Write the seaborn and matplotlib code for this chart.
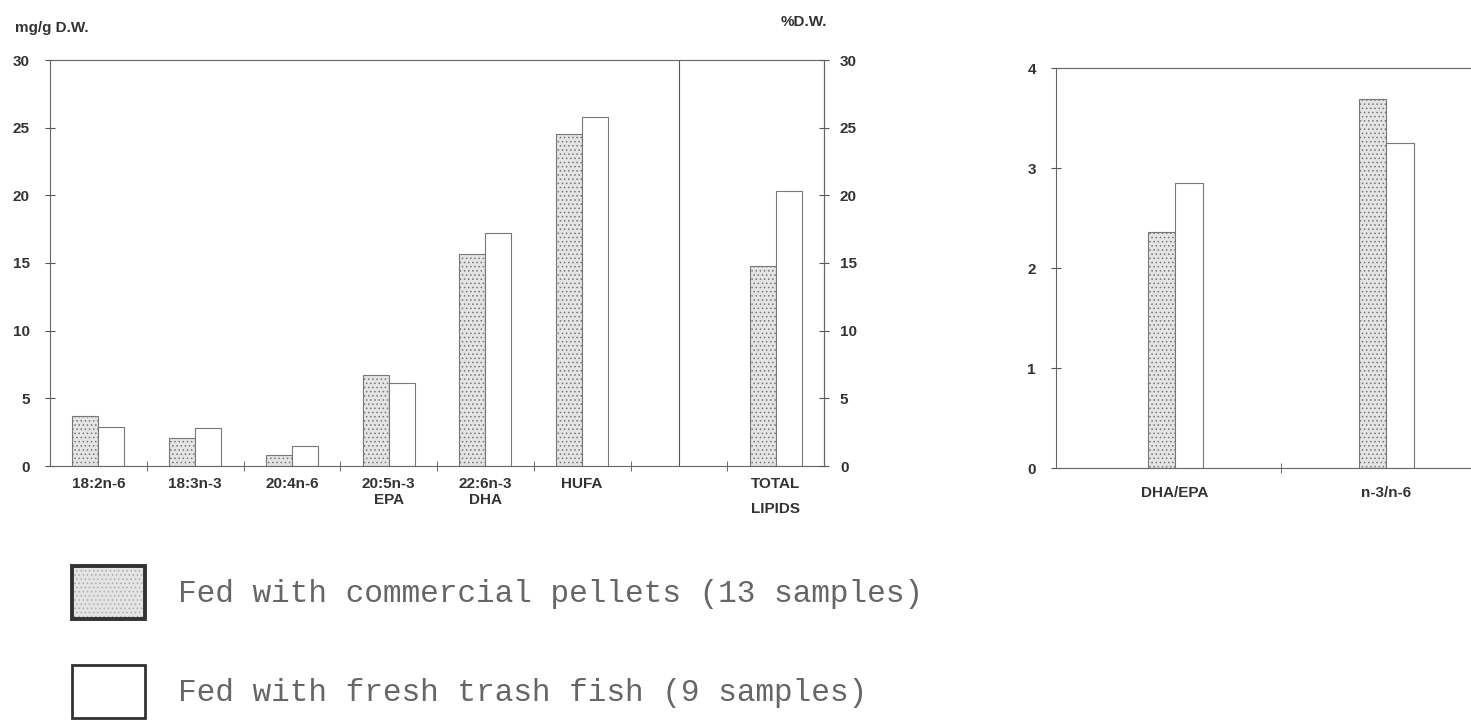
import matplotlib
matplotlib.use('Agg')
import matplotlib.pyplot as plt
from matplotlib.patches import Patch
from matplotlib.legend_handler import HandlerTuple
import numpy as np
import pandas as pd
import seaborn as sns

sns.set_style('white')
plt.rcParams.update({
    'font.family': ['Liberation Sans', 'DejaVu Sans'],
    'font.weight': 'bold',
    'font.size': 11,
    'text.color': '#333333',
    'xtick.color': '#555555',
    'ytick.color': '#555555',
    'xtick.labelcolor': '#333333',
    'ytick.labelcolor': '#333333',
    'hatch.linewidth': 0.6,
})

# fatty acid contents (mg/g D.W., total lipids in %D.W.)
acids = ['18:2n-6', '18:3n-3', '20:4n-6', '20:5n-3', '22:6n-3', 'HUFA', ' ', 'TOTAL LIPIDS']
acid_labels = ['18:2n-6', '18:3n-3', '20:4n-6', '20:5n-3\nEPA', '22:6n-3\nDHA', 'HUFA', '', 'TOTAL\nLIPIDS']
acids_used = ['18:2n-6', '18:3n-3', '20:4n-6', '20:5n-3', '22:6n-3', 'HUFA', 'TOTAL LIPIDS']
pellets_vals = [3.72, 2.05, 0.79, 6.73, 15.67, 24.5, 14.8]
trash_vals = [2.91, 2.78, 1.45, 6.11, 17.2, 25.8, 20.3]

# ratios
ratios = ['DHA/EPA', 'n-3/n-6']
pellets_ratio = [2.36, 3.69]
trash_ratio = [2.85, 3.25]

diets = ['Fed with commercial pellets (13 samples)', 'Fed with fresh trash fish (9 samples)']
diet_colors = {diets[0]: '#e4e4e4', diets[1]: 'white'}

df_fa = pd.DataFrame({
    'acid': acids_used * 2,
    'value': pellets_vals + trash_vals,
    'diet': [diets[0]] * len(acids_used) + [diets[1]] * len(acids_used),
})
df_ratio = pd.DataFrame({
    'ratio': ratios * 2,
    'value': pellets_ratio + trash_ratio,
    'diet': [diets[0]] * len(ratios) + [diets[1]] * len(ratios),
})

fig = plt.figure(figsize=(14.71, 7.26), dpi=100)
ax = fig.add_axes([50 / 1471, 260 / 726, 774 / 1471, 406 / 726])
axr = fig.add_axes([1056 / 1471, 258 / 726, 415 / 1471, 400 / 726])

edge = '#777777'
sns.barplot(data=df_fa, x='acid', y='value', hue='diet', order=acids, hue_order=diets,
            palette=diet_colors, saturation=1, width=0.54, edgecolor=edge, linewidth=0.8,
            legend=False, ax=ax)
sns.barplot(data=df_ratio, x='ratio', y='value', hue='diet', order=ratios, hue_order=diets,
            palette=diet_colors, saturation=1, width=0.26, edgecolor=edge, linewidth=0.8,
            legend=False, ax=axr)

for a in (ax, axr):
    for bar in a.containers[0]:
        bar.set_hatch('....')
    a.set_xlabel('')
    a.set_ylabel('')
    for s in a.spines.values():
        s.set_color('#666666')
        s.set_linewidth(0.8)

# left panel
ax.set_xlim(-0.5, 7.5)
ax.set_ylim(0, 30)
ax.set_yticks(np.arange(0, 31, 5))
ax.set_xticks(range(len(acids)))
ax.set_xticklabels(acid_labels)
ax.set_xticks(np.arange(0.5, 7, 1), minor=True)
ax.tick_params(axis='x', which='major', length=0, pad=8)
ax.tick_params(axis='x', which='minor', direction='inout', length=7, bottom=True)
ax.tick_params(axis='y', direction='inout', length=7, pad=11, left=True)
ax.get_xticklabels()[-1].set_linespacing(2.0)
ax.axvline(6, color='#555555', linewidth=0.8)

ax2 = ax.twinx()
ax2.set_ylim(0, 30)
ax2.set_yticks(np.arange(0, 31, 5))
ax2.tick_params(axis='y', direction='inout', length=7, pad=8, right=True)
for k, s in ax2.spines.items():
    s.set_visible(k == 'right')
    s.set_color('#666666')
    s.set_linewidth(0.8)

# right panel
axr.set_xlim(-0.564, 1.40)
axr.set_ylim(0, 4)
axr.set_yticks(range(5))
axr.set_xticks([0.5], minor=True)
axr.tick_params(axis='x', which='major', length=0, pad=13)
axr.tick_params(axis='x', which='minor', direction='inout', length=7, bottom=True)
axr.tick_params(axis='y', direction='inout', length=7, pad=11, left=True)
axr.spines['right'].set_visible(False)

fig.text(15 / 1471, 1 - 28 / 726, 'mg/g D.W.', fontsize=11, va='center', ha='left')
fig.text(781 / 1471, 1 - 22 / 726, '%D.W.', fontsize=11, va='center', ha='left')

# legend
h_pel = (Patch(facecolor=diet_colors[diets[0]], edgecolor='#aaaaaa', hatch='....', linewidth=0),
         Patch(facecolor='none', edgecolor='#333333', linewidth=2.8))
h_tr = Patch(facecolor='white', edgecolor='#333333', linewidth=2)
fig.legend([h_pel, h_tr], diets, handler_map={tuple: HandlerTuple(ndivide=1)},
           loc='upper left', bbox_to_anchor=(72 / 1471, 1 - 566 / 726), frameon=False,
           borderpad=0, borderaxespad=0, handlelength=2.35, handleheight=2.24,
           handletextpad=1.06, labelspacing=1.48,
           prop={'family': 'Liberation Mono', 'size': 22.4, 'weight': 'normal'},
           labelcolor='#666666')

plt.savefig('out.png', dpi=100)
plt.close()
print("Saved out.png")
